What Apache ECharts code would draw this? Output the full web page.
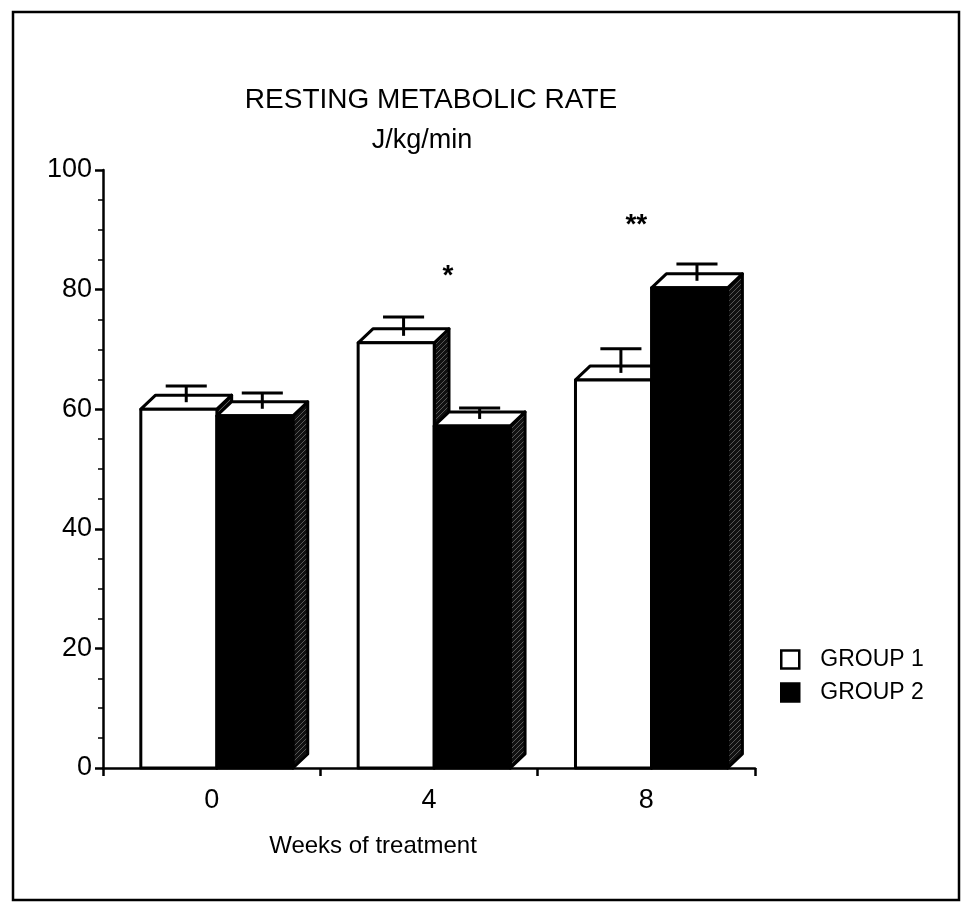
<!DOCTYPE html>
<html><head><meta charset="utf-8">
<script src="https://cdn.jsdelivr.net/npm/echarts@6/dist/echarts.min.js"></script>
<style>html,body{margin:0;padding:0;background:#fff}#c{width:974px;height:915px}</style>
</head><body><div id="c"></div>
<script>
const categories = ['0', '4', '8'];
const seriesNames = ['GROUP 1', 'GROUP 2'];
const group1Values = [60.0, 71.1, 64.9];
const group1Errors = [3.9, 4.3, 5.2];
const group2Values = [58.9, 57.2, 80.3];
const group2Errors = [3.8, 3.0, 4.0];
const yMin = 0, yMax = 100, yStep = 20;
const starCategories = [1, 2];
const starValues = [83, 91.6];
const starLabels = ['*', '**'];

const FONT = '"Liberation Sans", Arial, Helvetica, sans-serif';

// hatch pattern for side faces
const pc = document.createElement('canvas'); pc.width = 5; pc.height = 5;
const g = pc.getContext('2d');
g.fillStyle = '#111'; g.fillRect(0, 0, 5, 5);
g.strokeStyle = '#6a6a6a'; g.lineWidth = 0.8;
g.beginPath(); g.moveTo(0, 5); g.lineTo(5, 0); g.stroke();
const hatch = { image: pc, repeat: 'repeat' };

function barRender(slot, errs) {
  return function (params, api) {
    const cat = api.value(0), val = api.value(1), err = errs[params.dataIndex];
    const base = api.coord([cat, 0]);
    const top = api.coord([cat, val]);
    const cap = api.coord([cat, val + err]);
    const band = api.size([1, 0])[0];
    const w = band * 0.35, dx = band * 0.068, dy = 14;
    const left = base[0] - band * 0.326 + slot * w;
    const ty = top[1], by = base[1];
    const fill = slot === 0 ? '#fff' : '#000';
    const st = { stroke: '#000', lineWidth: 3, lineJoin: 'round' };
    const ex = left + w / 2 + dx / 2;
    return {
      type: 'group', children: [
        { type: 'polygon', shape: { points: [[left + w, ty], [left + w + dx, ty - dy], [left + w + dx, by - dy], [left + w, by]] }, style: Object.assign({ fill: hatch }, st) },
        { type: 'polygon', shape: { points: [[left, ty], [left + dx, ty - dy], [left + w + dx, ty - dy], [left + w, ty]] }, style: Object.assign({ fill: '#fff' }, st) },
        { type: 'rect', shape: { x: left, y: ty, width: w, height: by - ty }, style: Object.assign({ fill: fill }, st) },
        { type: 'line', shape: { x1: ex, y1: ty - dy / 2, x2: ex, y2: cap[1] }, style: { stroke: '#000', lineWidth: 3 } },
        { type: 'line', shape: { x1: ex - w * 0.27, y1: cap[1], x2: ex + w * 0.27, y2: cap[1] }, style: { stroke: '#000', lineWidth: 3 } }
      ]
    };
  };
}

const starOffsets = [0.087, -0.046];
function starRender(params, api) {
  const p = api.coord([api.value(0), api.value(1)]);
  const band = api.size([1, 0])[0];
  return {
    type: 'text', x: p[0] + starOffsets[params.dataIndex] * band, y: p[1] + 5,
    style: { text: starLabels[params.dataIndex], fill: '#000', font: 'bold 28px ' + FONT, textAlign: 'center', textVerticalAlign: 'middle' }
  };
}

const chart = echarts.init(document.getElementById('c'));
chart.setOption({
  animation: false,
  backgroundColor: '#fff',
  title: [
    { text: 'RESTING METABOLIC RATE', left: 426, top: 81, textAlign: 'center', textStyle: { fontFamily: FONT, fontSize: 28, fontWeight: 'normal', color: '#000' } },
    { text: 'J/kg/min', left: 417, top: 122, textAlign: 'center', textStyle: { fontFamily: FONT, fontSize: 27, fontWeight: 'normal', color: '#000' } }
  ],
  legend: {
    orient: 'vertical', left: 775, top: 643, itemWidth: 18, itemHeight: 18, itemGap: 10,
    icon: 'rect',
    textStyle: { fontFamily: FONT, fontSize: 23, color: '#000', padding: [0, 0, 0, 16] },
    data: [
      { name: seriesNames[0], itemStyle: { color: '#fff', borderColor: '#000', borderWidth: 2.5 } },
      { name: seriesNames[1], itemStyle: { color: '#000', borderColor: '#000', borderWidth: 2.5 } }
    ]
  },
  grid: { left: 103, top: 170, width: 652, height: 598 },
  xAxis: {
    type: 'category', data: categories,
    name: 'Weeks of treatment', nameLocation: 'middle', nameGap: 66,
    nameTextStyle: { fontFamily: FONT, fontSize: 24, color: '#000', padding: [0, 112, 0, 0] },
    axisLine: { lineStyle: { color: '#000', width: 2.5 } },
    axisTick: { show: true, alignWithLabel: false, length: 8, lineStyle: { color: '#000', width: 2.5 } },
    axisLabel: { fontFamily: FONT, fontSize: 27, color: '#000', margin: 19 },
    splitLine: { show: false }
  },
  yAxis: {
    type: 'value', min: yMin, max: yMax, interval: yStep,
    axisLine: { show: true, lineStyle: { color: '#000', width: 2.5 } },
    axisTick: { show: true, length: 8, lineStyle: { color: '#000', width: 2.5 } },
    minorTick: { show: true, splitNumber: 4, length: 5, lineStyle: { color: '#000', width: 1.5 } },
    axisLabel: { fontFamily: FONT, fontSize: 27, color: '#000', margin: 11 },
    splitLine: { show: false }
  },
  graphic: [
    { type: 'rect', shape: { x: 13, y: 12, width: 946, height: 888 }, style: { fill: 'none', stroke: '#000', lineWidth: 2.5 }, z: 0 }
  ],
  series: [
    { name: seriesNames[0], type: 'custom', renderItem: barRender(0, group1Errors), data: group1Values.map((v, i) => [i, v]), encode: { x: 0, y: 1 }, itemStyle: { color: '#fff', borderColor: '#000' }, z: 2 },
    { name: seriesNames[1], type: 'custom', renderItem: barRender(1, group2Errors), data: group2Values.map((v, i) => [i, v]), encode: { x: 0, y: 1 }, itemStyle: { color: '#000' }, z: 3 },
    { name: 'stars', type: 'custom', renderItem: starRender, data: starCategories.map((c, i) => [c, starValues[i]]), encode: { x: 0, y: 1 }, z: 4 }
  ]
});
</script>
</body></html>
